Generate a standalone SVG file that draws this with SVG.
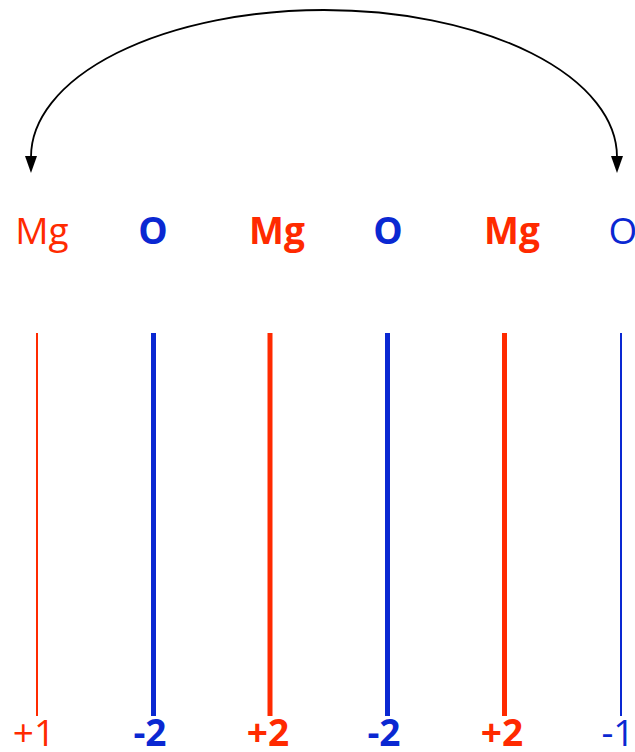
<svg xmlns="http://www.w3.org/2000/svg" width="635" height="752" viewBox="0 0 635 752">
<style>
.t{font-family:"Open Sans","Noto Sans",sans-serif;font-size:37px;text-anchor:middle}
.b{font-weight:bold}
.r{fill:#FF2A00}
.u{fill:#0A28D2}
.lr{stroke:#FF2A00}
.lu{stroke:#0A28D2}
.thin{stroke-width:2}
.bold{stroke-width:5}
</style>
<defs>
<marker id="ah" markerWidth="17" markerHeight="12" refX="1" refY="6" viewBox="0 0 17 12" orient="auto-start-reverse" markerUnits="userSpaceOnUse">
<path d="M0,0 L17,6 L0,12 Z" fill="#000"/>
</marker>
</defs>
<rect width="635" height="752" fill="#fff"/>
<g id="connectors">
<path d="M31,157 A293,147 0 0 1 617,157" fill="none" stroke="#000" stroke-width="1.8" marker-start="url(#ah)" marker-end="url(#ah)"/>
</g>
<g id="n1"><text class="t r" x="42" y="244">Mg</text><line class="lr thin" x1="37" y1="333" x2="37" y2="716"/><text class="t r" x="34" y="746">+1</text></g>
<g id="n2"><text class="t u b" x="153" y="244">O</text><line class="lu bold" x1="153.5" y1="333" x2="153.5" y2="716"/><text class="t u b" x="150" y="746">-2</text></g>
<g id="n3"><text class="t r b" x="277" y="244">Mg</text><line class="lr bold" x1="270" y1="333" x2="270" y2="716"/><text class="t r b" x="268" y="746">+2</text></g>
<g id="n4"><text class="t u b" x="388" y="244">O</text><line class="lu bold" x1="387.5" y1="333" x2="387.5" y2="716"/><text class="t u b" x="384" y="746">-2</text></g>
<g id="n5"><text class="t r b" x="512" y="244">Mg</text><line class="lr bold" x1="504.5" y1="333" x2="504.5" y2="716"/><text class="t r b" x="502" y="746">+2</text></g>
<g id="n6"><text class="t u" x="623" y="244">O</text><line class="lu thin" x1="621" y1="333" x2="621" y2="716"/><text class="t u" x="618" y="746">-1</text></g>
</svg>
